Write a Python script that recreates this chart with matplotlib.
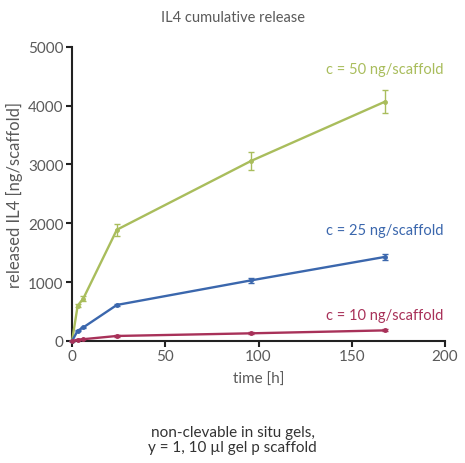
import matplotlib
matplotlib.use("Agg")
import matplotlib.pyplot as plt

# time points [h]
t = [0, 3, 6, 24, 96, 168]

c50 = [0, 600, 720, 1890, 3060, 4070]
c50_err = [0, 30, 40, 100, 150, 200]
c25 = [0, 175, 230, 612, 1030, 1430]
c25_err = [0, 10, 15, 20, 40, 50]
c10 = [0, 20, 30, 85, 130, 180]
c10_err = [0, 5, 5, 10, 15, 15]

labels = ["c = 50 ng/scaffold", "c = 25 ng/scaffold", "c = 10 ng/scaffold"]
colors = ["#a9bd5c", "#3b67ad", "#a83159"]
label_y = [4630, 1880, 440]

plt.rcParams['font.family'] = ['Lato', 'DejaVu Sans']
grey = "#5a5a5a"

fig = plt.figure(figsize=(4.65, 4.64), dpi=100)
ax = fig.add_axes([0.155, 0.263, 0.802, 0.634])

for y, e, col, lab, ly in zip([c50, c25, c10], [c50_err, c25_err, c10_err], colors, labels, label_y):
    ax.errorbar(t, y, yerr=e, color=col, lw=1.7, marker='o', ms=2.5,
                capsize=2, elinewidth=1, capthick=1, clip_on=False, zorder=3)
    ax.text(199, ly, lab, color=col, ha='right', va='center', fontsize=10.5)

ax.set_xlim(0, 200)
ax.set_ylim(0, 5000)
ax.set_xticks([0, 50, 100, 150, 200])
ax.set_yticks([0, 1000, 2000, 3000, 4000, 5000])
ax.spines['top'].set_visible(False)
ax.spines['right'].set_visible(False)
ax.spines['left'].set_color('#222222')
ax.spines['bottom'].set_color('#222222')
ax.spines['left'].set_linewidth(1.5)
ax.spines['bottom'].set_linewidth(1.5)
ax.tick_params(colors='#222222', labelcolor=grey, labelsize=11, width=1.5, length=4, pad=2)
ax.set_xlabel("time [h]", color=grey, fontsize=11, labelpad=6)
ax.set_ylabel("released IL4 [ng/scaffold]", color=grey, fontsize=12, labelpad=4)

fig.text(0.5, 0.962, "IL4 cumulative release", ha='center', va='center', color=grey, fontsize=10.5)
fig.text(0.5, 0.05, "non-clevable in situ gels,\ny = 1, 10 \u00b5l gel p scaffold",
         ha='center', va='center', color="#333333", fontsize=11, linespacing=1.1)

fig.savefig("out.png", dpi=100)
